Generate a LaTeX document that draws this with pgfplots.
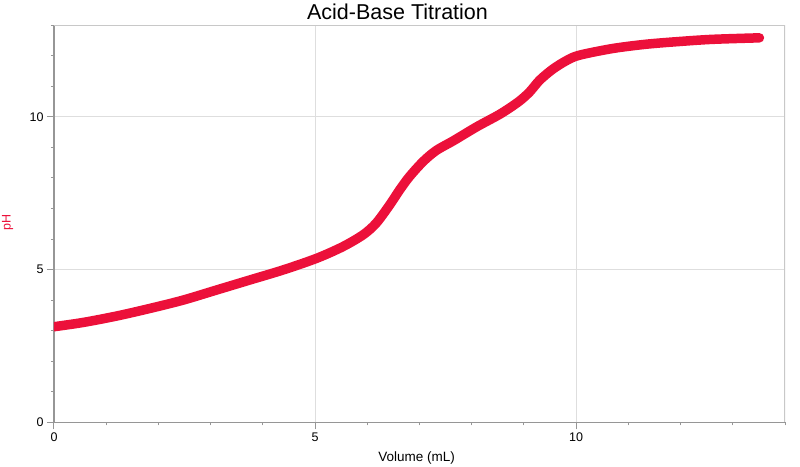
\documentclass[border=0pt]{standalone}
\usepackage{fontspec}
\setmainfont{Liberation Sans}
\usepackage{pgfplots}
\pgfplotsset{compat=1.18}
\definecolor{curvered}{RGB}{236,16,58}
\definecolor{axgray}{RGB}{150,150,150}
\definecolor{boxgray}{RGB}{200,200,200}
\definecolor{gridgray}{RGB}{222,222,222}

\begin{document}
\begin{tikzpicture}
\begin{axis}[
    scale only axis,
    width=731pt, height=397pt,
    xmin=0, xmax=14, ymin=0, ymax=13,
    axis lines*=left,
    axis line style={axgray, line width=1.4pt},
    xtick={0,5,10}, ytick={0,5,10},
    minor xtick={1,2,3,4,6,7,8,9,11,12,13,14},
    minor ytick={1,2,3,4,6,7,8,9,11,12,13},
    tick align=outside,
    major tick length=7pt, minor tick length=3pt,
    every tick/.style={axgray, line width=1pt},
    grid=major,
    major grid style={gridgray, line width=1pt},
    tick label style={font=\fontsize{12.5}{14}\selectfont},
    /pgf/number format/assume math mode=true,
    title={Acid-Base Titration},
    title style={font=\fontsize{21.5}{26}\selectfont, at={(0.4699,1)}, anchor=base, yshift=0pt},
    xlabel={Volume (mL)},
    xlabel style={font=\fontsize{13.5}{16}\selectfont, at={(0.496,-0.0982)}, anchor=base},
    ylabel={pH},
    ylabel style={font=\fontsize{12.5}{14}\selectfont, text=curvered, at={(-0.0636,0.504)}, anchor=center},
]
\coordinate (sw) at (rel axis cs:0,0);
\coordinate (ne) at (rel axis cs:1,1);
\draw[boxgray, line width=1.2pt] (rel axis cs:0,1) -- (rel axis cs:1,1) -- (rel axis cs:1,0);
\addplot[curvered, line width=9.5pt, line cap=round, line join=round, smooth] table {
v     pH
0.00  3.13
0.56  3.27
1.20  3.48
1.84  3.73
2.47  4.00
3.11  4.33
3.75  4.66
4.39  4.99
5.03  5.37
5.53  5.75
5.92  6.14
6.17  6.52
6.43  7.12
6.62  7.61
6.81  8.05
7.07  8.54
7.32  8.90
7.65  9.22
8.10  9.68
8.55  10.10
8.90  10.50
9.11  10.82
9.30  11.20
9.55  11.56
9.81  11.84
10.06 12.02
10.70 12.24
11.34 12.38
11.98 12.47
12.61 12.54
13.51 12.59
};
\end{axis}
\pgfresetboundingbox
\path ([xshift=-54pt,yshift=-44pt]sw) rectangle ([xshift=15pt,yshift=25.3pt]ne);
\end{tikzpicture}
\end{document}
